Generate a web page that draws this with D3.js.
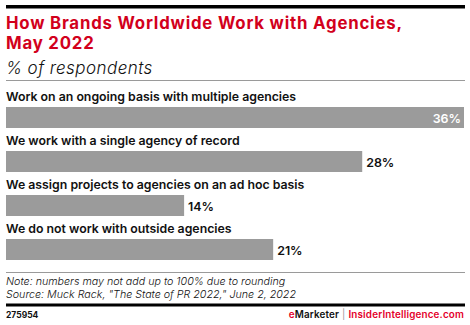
<!DOCTYPE html>
<html>
<head>
<meta charset="utf-8">
<script src="https://cdn.jsdelivr.net/npm/d3@7"></script>
<style>
  html, body { margin: 0; padding: 0; background: #fff; }
  svg { display: block; font-family: Inter, "Noto Sans", Arial, sans-serif; }
</style>
</head>
<body>
<svg id="chart" width="470" height="325"></svg>
<script>
const categories = [
  "Work on an ongoing basis with multiple agencies",
  "We work with a single agency of record",
  "We assign projects to agencies on an ad hoc basis",
  "We do not work with outside agencies"
];
const values = [36, 28, 14, 21];
const valueLabels = ["36%", "28%", "14%", "21%"];

const titleLines = ["How Brands Worldwide Work with Agencies,", "May 2022"];
const subtitle = "% of respondents";
const noteLines = [
  "Note: numbers may not add up to 100% due to rounding",
  "Source: Muck Rack, \"The State of PR 2022,\" June 2, 2022"
];
const chartId = "275954";

const svg = d3.select("#chart");
const left = 6, right = 464;

// header rule
svg.append("rect").attr("x", left).attr("y", 5).attr("width", right - left + 1).attr("height", 3.5).attr("fill", "#000");

// two-line title
svg.append("g").selectAll("text").data(titleLines).join("text")
  .attr("x", left).attr("y", (d, i) => 28.7 + i * 20.6)
  .attr("fill", "#d2001c").attr("font-size", 16.8).attr("font-weight", 700)
  .attr("letter-spacing", 0.8)
  .text(d => d);

svg.append("text").attr("x", left).attr("y", 73.5)
  .attr("fill", "#111").attr("font-size", 17).attr("font-style", "italic").attr("font-weight", 300)
  .attr("letter-spacing", 0.45)
  .text(subtitle);

svg.append("rect").attr("x", left).attr("y", 80).attr("width", right - left + 1).attr("height", 1).attr("fill", "#9a9a9a");

// bars
const x = d3.scaleLinear().domain([0, d3.max(values)]).range([left, right]);
const y = d3.scaleBand().domain(categories).range([89, 265]).paddingInner(0).paddingOuter(0);

const rows = svg.append("g").selectAll("g").data(categories).join("g")
  .attr("transform", d => `translate(0,${y(d)})`);

rows.append("text").attr("x", left).attr("y", 11.5)
  .attr("fill", "#111").attr("font-size", 12.3).attr("font-weight", 600)
  .text(d => d);

rows.append("rect")
  .attr("x", x(0)).attr("y", 18)
  .attr("width", (d, i) => x(values[i]) - x(0)).attr("height", 21)
  .attr("fill", "#9b9b9b");

rows.append("text")
  .attr("y", 33.5)
  .attr("x", (d, i) => values[i] === d3.max(values) ? x(values[i]) - 3 : x(values[i]) + 4)
  .attr("text-anchor", (d, i) => values[i] === d3.max(values) ? "end" : "start")
  .attr("fill", (d, i) => values[i] === d3.max(values) ? "#fff" : "#111")
  .attr("font-size", 12.4).attr("font-weight", 600)
  .text((d, i) => valueLabels[i]);

// footer
svg.append("rect").attr("x", left).attr("y", 272).attr("width", right - left + 1).attr("height", 1).attr("fill", "#9a9a9a");

svg.append("g").selectAll("text").data(noteLines).join("text")
  .attr("x", left).attr("y", (d, i) => 285 + i * 13)
  .attr("fill", "#111").attr("font-size", 10.7).attr("font-style", "italic").attr("font-weight", 300)
  .text(d => d);

svg.append("rect").attr("x", left).attr("y", 303.5).attr("width", right - left + 1).attr("height", 3).attr("fill", "#000");

svg.append("text").attr("x", left).attr("y", 318)
  .attr("fill", "#111").attr("font-size", 8.5).attr("font-weight", 700)
  .text(chartId);

const brand = svg.append("text").attr("x", right).attr("y", 318).attr("text-anchor", "end")
  .attr("font-size", 9.9).attr("font-weight", 600).attr("letter-spacing", 0.15);
brand.append("tspan").attr("fill", "#e4002b").text("e");
brand.append("tspan").attr("fill", "#111").text("Marketer");
brand.append("tspan").attr("fill", "#999").attr("font-weight", 400).text("  |  ");
brand.append("tspan").attr("fill", "#e4002b").text("InsiderIntelligence.com");
</script>
</body>
</html>
